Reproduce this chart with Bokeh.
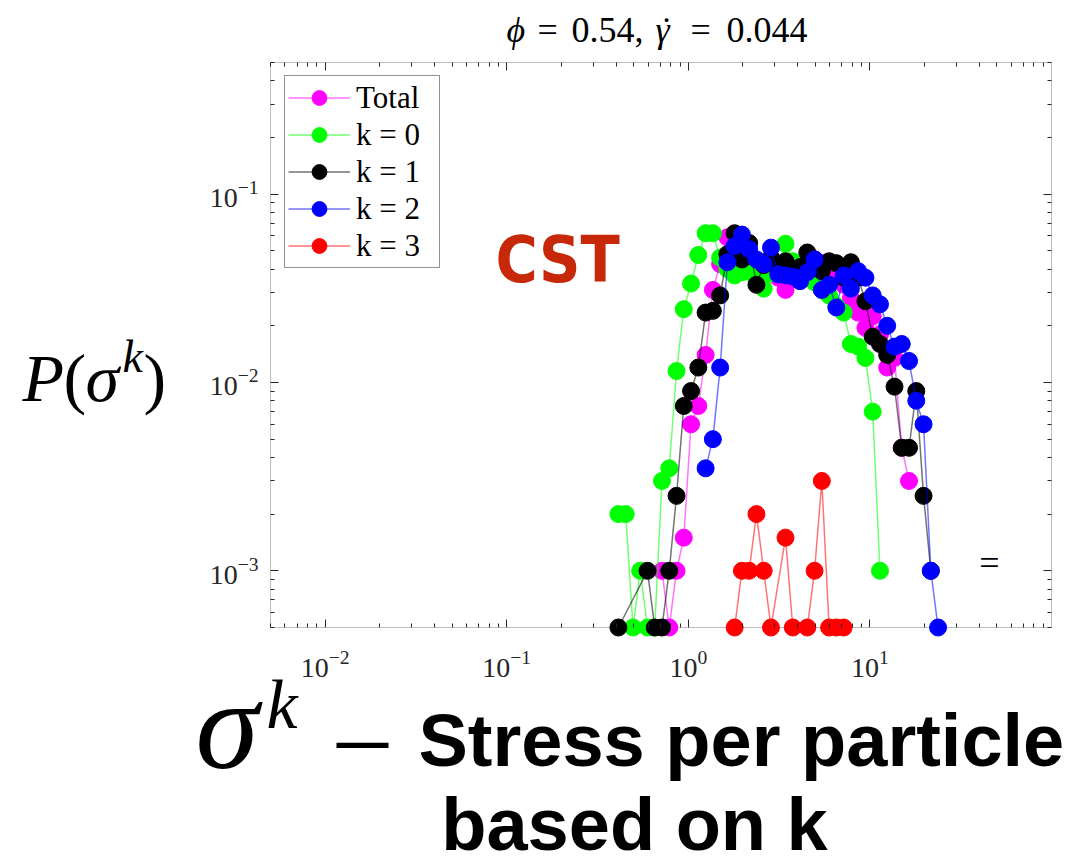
import math
from bokeh.plotting import figure
from bokeh.models import (LogAxis, Label, BoxAnnotation, CustomJSTickFormatter,
                          FixedTicker, LogTickFormatter, Range1d)
from bokeh.embed import file_html
from bokeh.resources import INLINE

# logarithmic stress bins (centres)
sigma_bins = [0.412, 0.452, 0.496, 0.543, 0.596, 0.653, 0.716, 0.785, 0.861, 0.944,
              1.035, 1.135, 1.245, 1.365, 1.497, 1.641, 1.799, 1.973, 2.163, 2.372,
              2.601, 2.852, 3.127, 3.429, 3.760, 4.123, 4.521, 4.957, 5.435, 5.960,
              6.535, 7.166, 7.857, 8.615, 9.447, 10.36, 11.36, 12.45, 13.66, 14.97,
              16.42, 18.00, 19.74, 21.65, 23.73]

N = None
# probability per bin; None = empty bin
p_total = [N, N, N, N, N, N, 0.001, 0.0005, 0.001, 0.0015,
           0.006, 0.0075, 0.014, 0.031, 0.0425, 0.059, 0.050, 0.047, 0.044, 0.041,
           0.040, 0.038, 0.036, 0.031, 0.038, 0.040, 0.042, 0.045, 0.043, 0.041,
           0.038, 0.033, 0.028, 0.0235, 0.0195, 0.0225, 0.018, 0.012, 0.0135, 0.0045,
           0.003, N, N, N, N]
p_k0 = [0.002, 0.002, 0.0005, 0.001, 0.0005, 0.0005, 0.003, 0.0035, 0.0115, 0.0245,
        0.0335, 0.0475, 0.062, 0.062, 0.046, 0.040, 0.037, 0.0385, 0.039, 0.035,
        0.0315, 0.038, 0.042, 0.0545, 0.044, 0.041, 0.036, 0.034, 0.031, 0.029,
        0.0255, 0.0235, 0.016, 0.0155, 0.0135, 0.007, 0.001, N, N, N,
        N, N, N, N, N]
p_k1 = [0.0005, N, N, N, 0.001, 0.0005, 0.0005, 0.001, 0.0025, 0.0075,
        0.009, 0.012, 0.0235, 0.024, 0.029, 0.048, 0.062, 0.045, 0.055, 0.033,
        0.042, 0.046, 0.040, 0.044, 0.038, 0.041, 0.049, 0.045, 0.039, 0.044,
        0.043, 0.036, 0.0435, 0.036, 0.027, 0.0175, 0.016, 0.014, 0.0095, 0.0045,
        0.0045, 0.009, 0.0025, 0.001, N]
p_k2 = [N, N, N, N, N, N, N, N, N, N,
        N, N, 0.0035, 0.005, 0.012, 0.0435, 0.053, 0.061, 0.051, 0.045,
        0.0425, 0.052, 0.0375, 0.037, 0.0365, 0.0345, 0.0385, 0.045, 0.031, 0.033,
        0.025, 0.037, 0.0315, 0.039, 0.036, 0.029, 0.026, 0.020, 0.0155, 0.016,
        0.013, 0.008, 0.006, 0.001, 0.0005]
p_k3 = [N, N, N, N, N, N, N, N, N, N,
        N, N, N, N, N, N, 0.0005, 0.001, 0.001, 0.002,
        0.001, 0.0005, N, 0.0015, 0.0005, N, 0.0005, 0.001, 0.003, 0.0005,
        0.0005, 0.0005, N, N, N, N, N, N, N, N,
        N, N, N, N, N]

series_names = ["Total", "k = 0", "k = 1", "k = 2", "k = 3"]
series_values = [p_total, p_k0, p_k1, p_k2, p_k3]
series_colors = ["#ff00ff", "#00ff00", "#000000", "#0000ff", "#ff0000"]

# axes box limits and tick positions
X_LIM = (0.005, 100.0)
Y_LIM = (0.0005, 0.5)
x_major = [0.01, 0.1, 1.0, 10.0]
y_major = [0.001, 0.01, 0.1]


def minor_ticks(lo, hi):
    out = []
    for e in range(-4, 3):
        for m in range(2, 10):
            v = m * 10.0 ** e
            if lo * 0.999 <= v <= hi * 1.001:
                out.append(v)
    return out


AX = "#262626"
SERIF = "Liberation Serif"
SANS = "Liberation Sans"
W, H = 1075, 865
BOX_L, BOX_R, BOX_T, BOX_B = 270, 1051, 62, 627   # axes box on the canvas

# the plotting frame spans the whole canvas; extend the log ranges so the
# axes box lands at BOX_* pixels
dx = (BOX_R - BOX_L) / (math.log10(X_LIM[1]) - math.log10(X_LIM[0]))
dy = (BOX_B - BOX_T) / (math.log10(Y_LIM[1]) - math.log10(Y_LIM[0]))
x_range = Range1d(10 ** (math.log10(X_LIM[0]) - BOX_L / dx),
                  10 ** (math.log10(X_LIM[1]) + (W - BOX_R) / dx))
y_range = Range1d(10 ** (math.log10(Y_LIM[0]) - (H - BOX_B) / dy),
                  10 ** (math.log10(Y_LIM[1]) + BOX_T / dy))

p = figure(width=W, height=H, x_axis_type="log", y_axis_type="log",
           x_axis_location=None, y_axis_location=None,
           x_range=x_range, y_range=y_range,
           output_backend="svg", toolbar_location=None, title=None,
           min_border=0)
p.grid.visible = False
p.outline_line_color = None

p.add_layout(BoxAnnotation(left=X_LIM[0], right=X_LIM[1], bottom=Y_LIM[0], top=Y_LIM[1],
                           fill_color=None, line_color=AX, line_width=1,
                           level="underlay"))


def make_axis(major, lo, hi, loc, labels):
    ax = LogAxis(ticker=FixedTicker(ticks=major, minor_ticks=minor_ticks(lo, hi)),
                 fixed_location=loc)
    ax.axis_line_color = None
    ax.major_tick_in = 8
    ax.major_tick_out = 0
    ax.minor_tick_in = 4
    ax.minor_tick_out = 0
    ax.major_tick_line_color = AX
    ax.minor_tick_line_color = AX
    if labels:
        ax.formatter = LogTickFormatter()
        ax.major_label_text_font = SERIF
        ax.major_label_text_font_size = "28px"
        ax.major_label_text_color = AX
    else:
        ax.formatter = CustomJSTickFormatter(code="return ''")
        ax.major_label_standoff = 0
    return ax


bottom_ax = make_axis(x_major, *X_LIM, Y_LIM[0], True)
bottom_ax.major_label_standoff = 23
p.add_layout(bottom_ax, "below")
left_ax = make_axis(y_major, *Y_LIM, X_LIM[0], True)
left_ax.major_label_standoff = 12
p.add_layout(left_ax, "left")
p.add_layout(make_axis(x_major, *X_LIM, Y_LIM[1], False), "above")
p.add_layout(make_axis(y_major, *Y_LIM, X_LIM[1], False), "right")

for name, vals, col in zip(series_names, series_values, series_colors):
    xs = [s for s, v in zip(sigma_bins, vals) if v is not None]
    ys = [v for v in vals if v is not None]
    p.line(xs, ys, line_color=col, line_alpha=0.55, line_width=1.5, legend_label=name)
    p.scatter(xs, ys, size=17, fill_color=col, line_color=col, legend_label=name)

lg = p.legend[0]
lg.location = (284, H - 268)
lg.margin = 0
lg.padding = 3
lg.spacing = 0
lg.glyph_width = 62
lg.glyph_height = 37
lg.label_height = 33
lg.label_width = 80
lg.label_standoff = 6
lg.label_text_font = SERIF
lg.label_text_font_size = "31px"
lg.label_text_color = "black"
lg.border_line_color = AX
lg.border_line_width = 1
lg.background_fill_alpha = 1


def text(t, cx, cy, size, font=SERIF, style="normal", color="black", align="left"):
    # cy is the vertical middle of the text box on the canvas
    p.add_layout(Label(x=cx, y=H - cy, x_units="screen", y_units="screen",
                       text=t, text_font=font, text_font_size=f"{size}px",
                       text_font_style=style, text_color=color,
                       text_align=align, text_baseline="middle"))


# title: phi = 0.54, gamma-dot = 0.044 (symbols in italic)
text("ϕ", 506, 29, 36, style="italic")
text("=", 537, 29, 36)
text("0.54,", 571, 29, 36)
text("γ", 655, 29, 36, style="italic")
text("˙", 666, 29, 36, align="center")
text("=", 690, 29, 36)
text("0.044", 726, 29, 36)

text("P", 22, 377, 68, style="italic")
text("(", 63, 377, 68)
text("σ", 85, 377, 68, style="italic")
text("k", 122, 356, 46, style="italic")
text(")", 143, 377, 68)
text("σ", 195, 724, 128, style="italic")
text("k", 266, 704, 70, style="italic")
text("—", 336, 740, 52, font=SANS, style="bold")
text("Stress per particle", 418, 740, 74, font=SANS, style="bold")
text("based on k", 634, 824, 74, font=SANS, style="bold", align="center")
text("CST", 495, 259, 64, font="'DejaVu Sans Condensed', 'Liberation Sans'",
     style="bold", color="#c8280a")
text("=", 989, 562, 36, align="center")

open("out.html", "w").write(file_html(p, INLINE))
